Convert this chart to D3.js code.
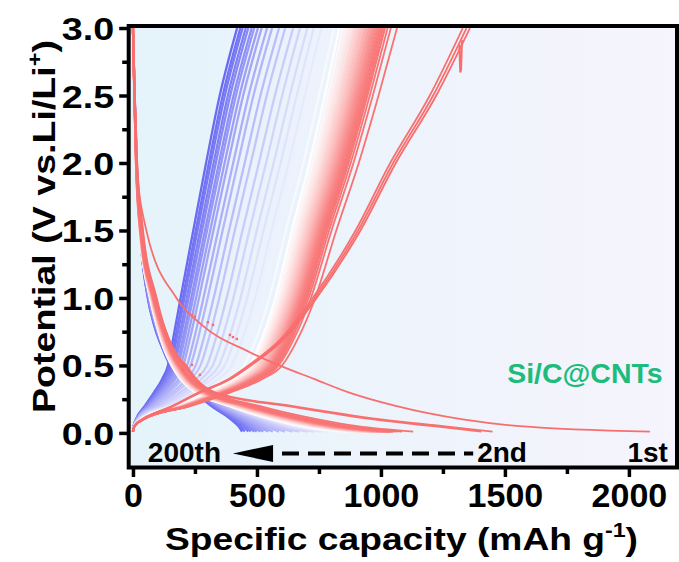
<!DOCTYPE html>
<html><head><meta charset="utf-8">
<script src="https://cdn.jsdelivr.net/npm/d3@7"></script>
<style>
html,body{margin:0;padding:0;background:#fff;}
svg{display:block;font-family:"Liberation Sans",Arial,sans-serif;font-weight:bold;}
</style></head><body>
<svg id="chart" width="679" height="562"></svg>
<script>
// Galvanostatic charge/discharge profiles of Si/C@CNTs, cycles 1-200
const cycles = [1,2,3,4,5,6,7,8,10,12,15,20,25,30,35,40,45,50,55,60,65,70,75,80,85,90,95,100,
  105,110,115,120,125,130,135,140,145,150,155,160,165,170,175,180,185,190,195,200];
// capacity at the 3.0 V cut-off (mAh/g)
const chargeCap = [1359,1345,1330,1065,1040,1027,1016,1008,1000,994,986,978,970,963,955,949,941,934,
  925,917,908,899,891,880,870,858,846,832,811,784,759,729,703,674,646,614,589,561,541,519,
  504,489,479,465,455,442,433,420];
// capacity at the 0.01 V cut-off (mAh/g)
const dischargeCap = [2085,1450,1405,1130,1085,1066,1052,1043,1036,1029,1021,1013,1004,997,989,982,
  974,966,958,949,940,931,922,911,900,887,876,864,841,816,787,761,730,704,671,643,613,589,
  564,546,526,514,499,489,475,465,451,440];

// voltage grid of the charge profiles and the fraction of capacity reached at each voltage
const chargeV =          [0.01, 0.05, 0.1,  0.2,  0.3,  0.4,  0.5,  0.7,  1.0,  1.5,  2.0,  2.5,  3.0];
const chargeFracFirst =  [0,    0.004,0.03, 0.12, 0.20, 0.29, 0.35, 0.45, 0.545,0.675,0.78, 0.90, 1];
const chargeFracMid =    [0,    0.006,0.04, 0.22, 0.37, 0.49, 0.565,0.625,0.69, 0.77, 0.855,0.93, 1];
const chargeFracLate =   [0,    0.007,0.029,0.114,0.202,0.281,0.336,0.386,0.457,0.579,0.702,0.833,1];

// voltage grid of the discharge profiles
const dischargeV =          [3.0, 2.5,   2.0,   1.5,  1.0,  0.8,  0.6,  0.5,  0.4,  0.3,  0.2,  0.1,  0.05, 0.01];
const dischargeFracFirst =  [0,   0.0024,0.0067,0.026,0.084,0.133,0.225,0.283,0.350,0.417,0.508,0.638,0.748,1];
const dischargeFracEarly =  [0,   0.0055,0.012, 0.028,0.066,0.086,0.117,0.148,0.176,0.228,0.441,0.69, 0.862,1];
const dischargeFracMid =    [0,   0.006, 0.013, 0.030,0.080,0.110,0.150,0.180,0.220,0.290,0.450,0.66, 0.80, 1];
const dischargeFracLate =   [0,   0.014, 0.032, 0.064,0.136,0.193,0.284,0.341,0.432,0.568,0.716,0.898,0.966,1];

// sparse recorded points of one early discharge and the glitch on the 3rd charge
const sparsePoints = [[222,0.89],[238,0.874],[250,0.86],[302,0.82],[323,0.80],[391,0.726],
  [403,0.71],[419,0.696],[202,0.467],[238,0.504],[270,0.43]];
const glitch = [[1316,2.88],[1320,2.67],[1323,2.69],[1327,2.91]];

const xTicks = [0,500,1000,1500,2000];
const xMinor = [250,750,1250,1750,2250];
const yTicks = [0,0.5,1.0,1.5,2.0,2.5,3.0];
const yMinor = [0.25,0.75,1.25,1.75,2.25,2.75];

const svg = d3.select("#chart");
const L = 128.7, R = 677, T = 26, B = 467.5;
const x = d3.scaleLinear().domain([-16, 2194]).range([129, 677]);
const y = d3.scaleLinear().domain([-0.26, 3.015]).range([468, 26]);

const defs = svg.append("defs");
const grad = defs.append("linearGradient").attr("id","bg").attr("x1","0").attr("x2","1").attr("y1","0").attr("y2","0");
grad.append("stop").attr("offset","0").attr("stop-color","#e5f3fb");
grad.append("stop").attr("offset","1").attr("stop-color","#f6f4fc");
defs.append("clipPath").attr("id","plotclip").append("rect")
  .attr("x",L).attr("y",T).attr("width",R-L).attr("height",B-T);

svg.append("rect").attr("x",L).attr("y",T).attr("width",R-L).attr("height",B-T).attr("fill","url(#bg)");

const red = "#f86e6e", blue = "#6a6af2";
function cycleColor(c){
  const t = (c-1)/199;
  return t <= 0.5 ? d3.interpolateRgb(red, "#ffffff")(t/0.5) : d3.interpolateRgb("#ffffff", blue)((t-0.5)/0.5);
}
function mix(a, b, w){ return a.map((v,i)=> v*w + b[i]*(1-w)); }

const line = d3.line().x(d=>x(d[0])).y(d=>y(d[1])).curve(d3.curveMonotoneX);
const g = svg.append("g").attr("clip-path","url(#plotclip)");

// later cycles first so that early cycles lie on top
const order = d3.range(cycles.length).reverse();
order.forEach(i => {
  const c = cycles[i], qc = chargeCap[i], qd = dischargeCap[i];
  let fc, fd;
  if (c <= 3) fc = chargeFracFirst;
  else { const w = Math.max(0, Math.min(1, (qc-420)/(832-420))); fc = mix(chargeFracMid, chargeFracLate, w); }
  if (c === 1) fd = dischargeFracFirst;
  else if (c <= 3) fd = dischargeFracEarly;
  else { const w = Math.max(0, Math.min(1, (qd-440)/(864-440))); fd = mix(dischargeFracMid, dischargeFracLate, w); }
  const col = cycleColor(c);
  const sw = c <= 6 ? 1.8 : 2.3;
  const dis = dischargeV.map((v,k)=>[fd[k]*qd, v]);
  const chg = chargeV.map((v,k)=>[fc[k]*qc, v]);
  g.append("path").attr("d", line(dis)).attr("fill","none").attr("stroke",col).attr("stroke-width",sw);
  g.append("path").attr("d", line(chg)).attr("fill","none").attr("stroke",col).attr("stroke-width",sw);
});
g.append("path").attr("d", d3.line().x(d=>x(d[0])).y(d=>y(d[1]))(glitch))
  .attr("fill","none").attr("stroke",red).attr("stroke-width",2);
g.selectAll("rect.sp").data(sparsePoints).enter().append("rect").attr("class","sp")
  .attr("x",d=>x(d[0])-1.2).attr("y",d=>y(d[1])-1.2).attr("width",2.4).attr("height",2.4).attr("fill",red);

// frame
svg.append("rect").attr("x",L).attr("y",T).attr("width",R-L).attr("height",B-T)
  .attr("fill","none").attr("stroke","#000").attr("stroke-width",4);

// axes
function styleAxis(sel, size){
  sel.select(".domain").remove();
  sel.selectAll("line").attr("stroke","#000").attr("stroke-width",3.5);
  sel.selectAll("text").attr("fill","#000").style("font-size",size+"px").style("font-weight","bold")
    .style("font-family",'"Liberation Sans",Arial,sans-serif');
}
const xAxis = svg.append("g").attr("transform",`translate(0,${B+1.5})`)
  .call(d3.axisBottom(x).tickValues(xTicks).tickSize(8).tickPadding(3).tickFormat(d3.format("d")));
styleAxis(xAxis, 34);
xAxis.selectAll("text").attr("dy","0.71em").attr("y",14);
const xAxisMinor = svg.append("g").attr("transform",`translate(0,${B+1.5})`)
  .call(d3.axisBottom(x).tickValues(xMinor.filter(v=>x(v)<R)).tickSize(5).tickFormat(""));
styleAxis(xAxisMinor, 34);

const yAxis = svg.append("g").attr("transform",`translate(${L-1.5},0)`)
  .call(d3.axisLeft(y).tickValues(yTicks).tickSize(8).tickPadding(6).tickFormat(d3.format(".1f")));
styleAxis(yAxis, 32);
yAxis.selectAll("text").attr("x",-11).attr("dy","0.36em").attr("transform","scale(1.18,1)");
const yAxisMinor = svg.append("g").attr("transform",`translate(${L-1.5},0)`)
  .call(d3.axisLeft(y).tickValues(yMinor).tickSize(5).tickFormat(""));
styleAxis(yAxisMinor, 32);

// axis titles
const xt = svg.append("text").attr("x",165).attr("y",550)
  .attr("textLength",473).attr("lengthAdjust","spacingAndGlyphs")
  .style("font-size","32px").attr("fill","#000");
xt.append("tspan").text("Specific capacity (mAh g");
xt.append("tspan").attr("dy",-13).style("font-size","20px").text("-1");
xt.append("tspan").attr("dy",13).text(")");

const yt = svg.append("text").attr("transform","translate(55,413) rotate(-90)")
  .attr("textLength",373).attr("lengthAdjust","spacingAndGlyphs")
  .style("font-size","32px").attr("fill","#000");
yt.append("tspan").text("Potential (V vs.Li/Li");
yt.append("tspan").attr("dy",-13).style("font-size","20px").text("+");
yt.append("tspan").attr("dy",13).text(")");

// annotations
svg.append("text").attr("x",x(1509)).attr("y",y(0.37)).style("font-size","28.5px").attr("fill","#1dbb7c").text("Si/C@CNTs");
svg.append("text").attr("x",x(60)).attr("y",y(-0.215)).style("font-size","28px").attr("fill","#000").text("200th");
svg.append("text").attr("x",x(1388)).attr("y",y(-0.215)).style("font-size","28px").attr("fill","#000").text("2nd");
svg.append("text").attr("x",x(1994)).attr("y",y(-0.215)).style("font-size","28px").attr("fill","#000").text("1st");
const ay = y(-0.152);
svg.append("path").attr("d",`M${x(403)},${ay} L${x(565)},${ay-8.5} L${x(565)},${ay+8.5} Z`).attr("fill","#000");
svg.append("line").attr("x1",x(601)).attr("x2",x(1372)).attr("y1",ay).attr("y2",ay)
  .attr("stroke","#000").attr("stroke-width",4).attr("stroke-dasharray","17,9");
</script>
</body></html>
